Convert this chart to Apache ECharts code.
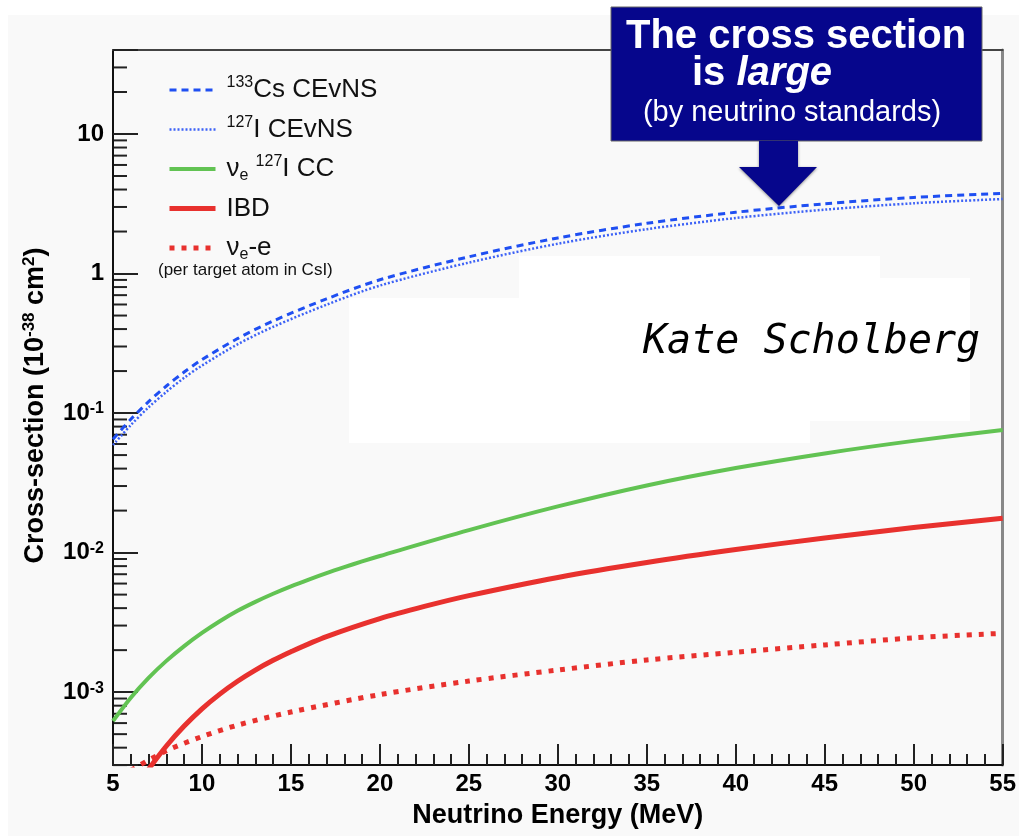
<!DOCTYPE html>
<html><head><meta charset="utf-8">
<script src="https://cdn.jsdelivr.net/npm/echarts@6/dist/echarts.min.js"></script>
<style>html,body{margin:0;padding:0;background:#fff;} #c{width:1019px;height:836px;}</style>
</head><body><div id="c"></div>
<script>
// ---- data ----
const energyCEvNS = [5,6,7,8,9,10,12,14,17,20,25,30,35,40,45,50,55];
const cs133CEvNS  = [0.065,0.0902,0.1208,0.1563,0.1968,0.2415,0.342,0.457,0.658,0.902,1.318,1.80,2.29,2.75,3.16,3.51,3.76];
const i127CEvNS   = [0.059,0.082,0.110,0.142,0.179,0.219,0.311,0.415,0.598,0.82,1.198,1.635,2.08,2.5,2.87,3.19,3.42];
const energyCC    = [5,6,7,8,9,10,11,12,13,14,15,16,17,18,19,20,25,30,35,40,45,50,55];
const nueI127CC   = [6.21e-4,9.12e-4,1.265e-3,1.675e-3,2.138e-3,2.655e-3,3.221e-3,3.828e-3,4.436e-3,5.07e-3,5.728e-3,6.41e-3,7.129e-3,7.87e-3,8.65e-3,9.46e-3,0.01449,0.02143,0.03027,0.04036,0.0514,0.0632,0.0756];
const energyIBD   = [7,8,9,10,11,12,13,14,15,17,20,22.5,25,30,35,40,45,50,55];
const ibdXS       = [2.805e-4,4.11e-4,5.71e-4,7.59e-4,9.68e-4,1.197e-3,1.439e-3,1.69e-3,1.95e-3,2.50e-3,3.365e-3,4.116e-3,4.92e-3,6.64e-3,8.50e-3,0.01052,0.01272,0.01512,0.01766];
const energyES    = [6,8,10,12,15,20,25,30,35,40,45,50,55];
const nueElectron = [2.75e-4,3.8e-4,4.8e-4,5.8e-4,7.2e-4,9.6e-4,1.2e-3,1.44e-3,1.7e-3,1.93e-3,2.18e-3,2.45e-3,2.64e-3];
const xAxisRange  = [5, 55];
const xTickStep   = 5;
const yAxisRange  = [3e-4, 40];
const yMinorMultipliers = [2,3,4,5,6,7,8,9];
const yDecades    = [-4,-3,-2,-1,0,1];
const seriesNames = ['Cs','I','CC','IBD','ee'];
const legendText  = {
  Cs:  '{g|}{sup|133}Cs CEvNS',
  I:   '{g|}{sup|127}I CEvNS',
  CC:  '{g|}ν{sub|e} {sup|127}I CC',
  IBD: '{g|}IBD',
  ee:  '{g|}ν{sub|e}-e'
};

const yMinorTicks = [];
yDecades.forEach(d => yMinorMultipliers.forEach(m => {
  const v = m * Math.pow(10, d);
  if (v >= yAxisRange[0] * 0.999 && v <= yAxisRange[1] * 1.001) yMinorTicks.push(v);
}));

const pair = (xs, ys) => xs.map((x, i) => [x, ys[i]]);
const FONT = '"Liberation Sans", Arial, Helvetica, sans-serif';
const NAVY = '#06068c';

const styles = {
  Cs:  {color: '#1f4ff2', width: 3,   type: [7, 5]},
  I:   {color: '#3d62f6', width: 2.5, type: [2, 2]},
  CC:  {color: '#62c353', width: 4,   type: 'solid'},
  IBD: {color: '#e8312e', width: 5,   type: 'solid'},
  ee:  {color: '#e8312e', width: 5,   type: [5, 7]}
};
const seriesData = {
  Cs: pair(energyCEvNS, cs133CEvNS),
  I: pair(energyCEvNS, i127CEvNS),
  CC: pair(energyCC, nueI127CC),
  IBD: pair(energyIBD, ibdXS),
  ee: pair(energyES, nueElectron)
};

const chart = echarts.init(document.getElementById('c'), null, {renderer: 'canvas'});

const lineSeries = seriesNames.map(n => ({
  type: 'line', name: n, symbol: 'none', smooth: 0.3, z: 5, silent: true,
  data: seriesData[n],
  lineStyle: Object.assign({}, styles[n]),
  itemStyle: {color: styles[n].color}
}));

chart.setOption({
  animation: false,
  backgroundColor: '#ffffff',
  grid: {left: 113, right: 12, top: 50, bottom: 68},
  legend: {
    data: seriesNames.map(n => ({name: n, lineStyle: {width: styles[n].width, type: styles[n].type, color: styles[n].color}})),
    orient: 'vertical',
    left: 167, top: 75, padding: 0,
    itemWidth: 46, itemHeight: 14, itemGap: 9.5,
    itemStyle: {opacity: 0},
    formatter: n => legendText[n],
    textStyle: {
      fontFamily: FONT, fontSize: 26, color: '#111', lineHeight: 30,
      rich: {
        g: {width: 6},
        sup: {fontSize: 16, fontFamily: FONT, color: '#111', verticalAlign: 'top', lineHeight: 16},
        sub: {fontSize: 16, fontFamily: FONT, color: '#111', verticalAlign: 'bottom', lineHeight: 16}
      }
    }
  },
  xAxis: [{
    type: 'value', min: xAxisRange[0], max: xAxisRange[1], interval: xTickStep,
    name: 'Neutrino Energy (MeV)', nameLocation: 'middle', nameGap: 32,
    nameTextStyle: {fontFamily: FONT, fontSize: 27, fontWeight: 'bold', color: '#000', lineHeight: 30},
    axisLine: {show: true, onZero: false, lineStyle: {color: '#111', width: 2}},
    axisTick: {show: true, inside: true, length: 21, lineStyle: {color: '#222', width: 2}},
    minorTick: {show: true, splitNumber: 5, length: 11, lineStyle: {color: '#222', width: 2}},
    axisLabel: {fontFamily: FONT, fontSize: 24, fontWeight: 'bold', color: '#000', margin: 7},
    splitLine: {show: false}, minorSplitLine: {show: false}, z: 4
  }, {
    type: 'value', position: 'top', min: xAxisRange[0], max: xAxisRange[1],
    axisLine: {show: true, onZero: false, lineStyle: {color: '#444', width: 2}},
    axisTick: {show: false}, axisLabel: {show: false}, splitLine: {show: false}, z: 4
  }],
  yAxis: [{
    type: 'log', logBase: 10, min: yAxisRange[0], max: yAxisRange[1],
    name: 'Cross-section (10{sup|-38} cm{sup|2})', nameLocation: 'middle', nameGap: 62,
    nameTextStyle: {fontFamily: FONT, fontSize: 27, fontWeight: 'bold', color: '#000', lineHeight: 30,
      padding: [0, 0, 0, 4],
      rich: {sup: {fontSize: 17, fontWeight: 'bold', fontFamily: FONT, color: '#000', verticalAlign: 'top', lineHeight: 17}}},
    axisLine: {show: true, onZero: false, lineStyle: {color: '#111', width: 2}},
    axisTick: {show: true, inside: true, length: 25, lineStyle: {color: '#222', width: 2}},
    axisLabel: {
      fontFamily: FONT, fontSize: 24, fontWeight: 'bold', color: '#000', margin: 9,
      formatter: v => {
        const e = Math.round(Math.log10(v));
        if (Math.abs(Math.log10(v) - e) > 1e-6) return '';
        if (e === 1) return '10';
        if (e === 0) return '1';
        return '10{sup|' + e + '}';
      },
      rich: {sup: {fontSize: 16, fontWeight: 'bold', fontFamily: FONT, color: '#000', verticalAlign: 'top', lineHeight: 16}}
    },
    splitLine: {show: false}, z: 4
  }, {
    type: 'log', logBase: 10, position: 'right', min: yAxisRange[0], max: yAxisRange[1],
    axisLine: {show: true, onZero: false, lineStyle: {color: '#888', width: 3}},
    axisTick: {show: false}, axisLabel: {show: false}, splitLine: {show: false}, z: 4
  }],
  series: lineSeries.concat([{
    type: 'custom', name: 'minorTicks', silent: true, z: 4, clip: false,
    data: yMinorTicks.map(v => [xAxisRange[0], v]),
    renderItem: (params, api) => {
      const p = api.coord([api.value(0), api.value(1)]);
      return {type: 'line', shape: {x1: p[0], y1: p[1], x2: p[0] + 14, y2: p[1]},
        style: {stroke: '#222', lineWidth: 2}};
    }
  }]),
  graphic: [
    {type: 'rect', z: -10, silent: true, shape: {x: 8, y: 15, width: 1011, height: 821}, style: {fill: '#f9f9f9'}},
    {type: 'rect', z: -9, silent: true, shape: {x: 349, y: 298, width: 461, height: 145}, style: {fill: '#ffffff'}},
    {type: 'rect', z: -9, silent: true, shape: {x: 519, y: 256, width: 291, height: 187}, style: {fill: '#ffffff'}},
    {type: 'rect', z: -9, silent: true, shape: {x: 810, y: 256, width: 70, height: 165}, style: {fill: '#ffffff'}},
    {type: 'rect', z: -9, silent: true, shape: {x: 880, y: 278, width: 90, height: 143}, style: {fill: '#ffffff'}},
    {type: 'text', z: 20, silent: true, style: {text: '(per target atom in CsI)', x: 158, y: 270,
      font: '17px ' + FONT, fill: '#111', align: 'left', verticalAlign: 'middle'}},
    {type: 'text', z: 20, silent: true, style: {text: 'Kate Scholberg', x: 643, y: 343,
      font: 'italic 40px "DejaVu Sans Mono", monospace', fill: '#000', align: 'left', verticalAlign: 'middle'}},
    {type: 'rect', z: 50, silent: true, shape: {x: 611, y: 7, width: 371, height: 134},
      style: {fill: NAVY, stroke: '#666', lineWidth: 1}},
    {type: 'polygon', z: 50, silent: true,
      shape: {points: [[759,141],[798,141],[798,167],[817,167],[779,206],[739,167],[759,167]]},
      style: {fill: NAVY, shadowBlur: 3, shadowColor: 'rgba(0,0,0,0.45)', shadowOffsetY: 1}},
    {type: 'text', z: 51, silent: true, style: {text: 'The cross section', x: 796, y: 37,
      font: 'bold 40px ' + FONT, fill: '#fff', align: 'center', verticalAlign: 'middle'}},
    {type: 'text', z: 51, silent: true, style: {text: 'is {it|large}', x: 692, y: 74,
      font: 'bold 40px ' + FONT, fill: '#fff', align: 'left', verticalAlign: 'middle',
      rich: {it: {fontStyle: 'italic', fontWeight: 'bold', fontSize: 40, fontFamily: FONT, fill: '#fff'}}}},
    {type: 'text', z: 51, silent: true, style: {text: '(by neutrino standards)', x: 792, y: 113,
      font: '29px ' + FONT, fill: '#fff', align: 'center', verticalAlign: 'middle'}}
  ]
});
</script></body></html>
